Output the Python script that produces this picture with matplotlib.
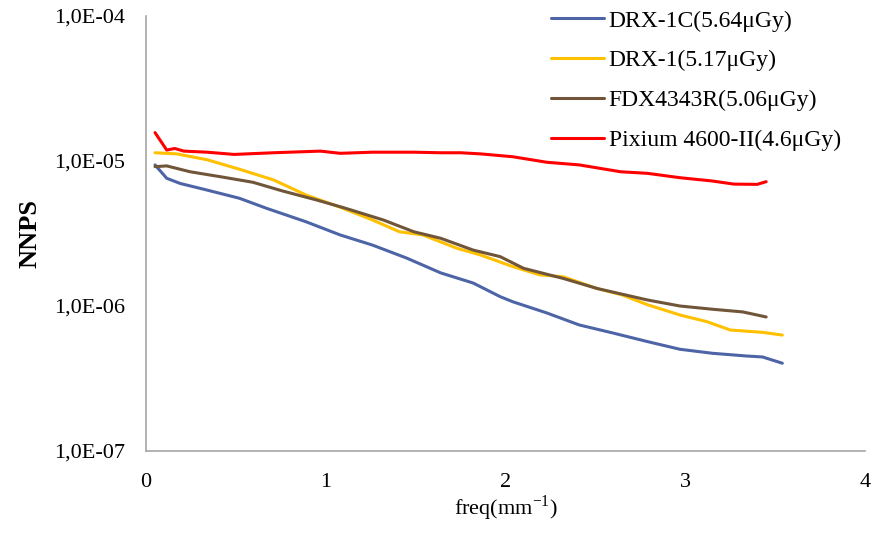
import matplotlib
matplotlib.use("Agg")
import matplotlib.pyplot as plt
import numpy as np

# DRX-1C (5.64 uGy)
x_drx1c = [0.05, 0.115, 0.19, 0.34, 0.52, 0.67, 0.89, 1.08, 1.26, 1.45, 1.64, 1.82, 1.97,
           2.04, 2.23, 2.41, 2.6, 2.79, 2.97, 3.15, 3.34, 3.43, 3.54]
y_drx1c = [9.4e-6, 7.6e-6, 7.0e-6, 6.3e-6, 5.53e-6, 4.72e-6, 3.81e-6, 3.09e-6, 2.63e-6,
           2.14e-6, 1.69e-6, 1.44e-6, 1.16e-6, 1.07e-6, 8.95e-7, 7.4e-7, 6.5e-7, 5.68e-7,
           5.03e-7, 4.72e-7, 4.52e-7, 4.45e-7, 4.03e-7]

# DRX-1 (5.17 uGy)
x_drx1 = [0.05, 0.17, 0.34, 0.52, 0.71, 0.89, 1.08, 1.26, 1.41, 1.54, 1.73, 1.86, 2.04,
          2.19, 2.32, 2.51, 2.65, 2.79, 2.97, 3.12, 3.25, 3.43, 3.54]
y_drx1 = [1.14e-5, 1.12e-5, 1.02e-5, 8.77e-6, 7.4e-6, 5.83e-6, 4.8e-6, 3.92e-6, 3.25e-6,
          3.09e-6, 2.5e-6, 2.25e-6, 1.87e-6, 1.64e-6, 1.59e-6, 1.32e-6, 1.19e-6, 1.02e-6,
          8.67e-7, 7.8e-7, 6.83e-7, 6.58e-7, 6.3e-7]

# FDX4343R (5.06 uGy)
x_fdx = [0.05, 0.115, 0.245, 0.43, 0.595, 0.76, 0.95, 1.11, 1.32, 1.49, 1.64, 1.82, 1.97,
         2.1, 2.32, 2.51, 2.79, 2.97, 3.15, 3.32, 3.45]
y_fdx = [9.14e-6, 9.25e-6, 8.43e-6, 7.73e-6, 7.13e-6, 6.21e-6, 5.38e-6, 4.72e-6, 3.92e-6,
         3.25e-6, 2.93e-6, 2.43e-6, 2.19e-6, 1.82e-6, 1.55e-6, 1.32e-6, 1.1e-6, 1.0e-6,
         9.5e-7, 9.1e-7, 8.4e-7]

# Pixium 4600-II (4.6 uGy)
x_pix = [0.05, 0.115, 0.16, 0.21, 0.34, 0.49, 0.71, 0.97, 1.08, 1.26, 1.49, 1.64, 1.75,
         1.86, 2.04, 2.23, 2.41, 2.64, 2.79, 2.97, 3.15, 3.27, 3.4, 3.45]
y_pix = [1.57e-5, 1.19e-5, 1.22e-5, 1.17e-5, 1.15e-5, 1.11e-5, 1.14e-5, 1.17e-5, 1.13e-5,
         1.15e-5, 1.15e-5, 1.14e-5, 1.14e-5, 1.12e-5, 1.07e-5, 9.8e-6, 9.4e-6, 8.43e-6,
         8.22e-6, 7.67e-6, 7.28e-6, 6.93e-6, 6.9e-6, 7.2e-6]

labels = ["DRX-1C(5.64\u03bcGy)", "DRX-1(5.17\u03bcGy)", "FDX4343R(5.06\u03bcGy)",
          "Pixium 4600-II(4.6\u03bcGy)"]
colors = ["#4d64a6", "#ffc000", "#705538", "#ff0000"]

y_ticks = [1e-7, 1e-6, 1e-5, 1e-4]
y_tick_labels = ["1,0E-07", "1,0E-06", "1,0E-05", "1,0E-04"]
x_ticks = [0, 1, 2, 3, 4]

plt.rcParams['font.family'] = ['Liberation Serif', 'DejaVu Serif']

fig = plt.figure(figsize=(8.75, 5.39), dpi=100)
ax = fig.add_axes([0.1669, 0.1633, 0.8217, 0.807])

series = [(x_drx1c, y_drx1c), (x_drx1, y_drx1), (x_fdx, y_fdx), (x_pix, y_pix)]
for (xs, ys), lab, c in zip(series, labels, colors):
    ax.plot(xs, ys, color=c, lw=2.2, label=lab, solid_capstyle='round')

ax.set_yscale('log')
ax.set_ylim(1e-7, 1e-4)
ax.set_xlim(0, 4)
ax.yaxis.set_minor_locator(matplotlib.ticker.NullLocator())
ax.set_yticks(y_ticks)
ax.set_yticklabels(y_tick_labels)
ax.set_xticks(x_ticks)
ax.set_xticklabels([str(t) for t in x_ticks])
ax.tick_params(length=0, labelsize=16)
ax.tick_params(axis='y', pad=15)
ax.tick_params(axis='x', pad=16)

for s in ['top', 'right']:
    ax.spines[s].set_visible(False)
for s in ['left', 'bottom']:
    ax.spines[s].set_color('#a6a6a6')
    ax.spines[s].set_linewidth(1.2)

ax.set_ylabel("NNPS", fontsize=19, fontweight='bold', labelpad=9)
ax.set_xlabel("freq(mm$^{\\mathregular{-1}}$)", fontsize=16, labelpad=1)

ax.legend(loc='upper left', bbox_to_anchor=(551 / 875, 1 - 10 / 539),
          bbox_transform=fig.transFigure, frameon=False, fontsize=17,
          handlelength=2.25, labelspacing=0.78, handletextpad=0.2,
          borderpad=0, borderaxespad=0)

fig.savefig("out.png", dpi=100)
